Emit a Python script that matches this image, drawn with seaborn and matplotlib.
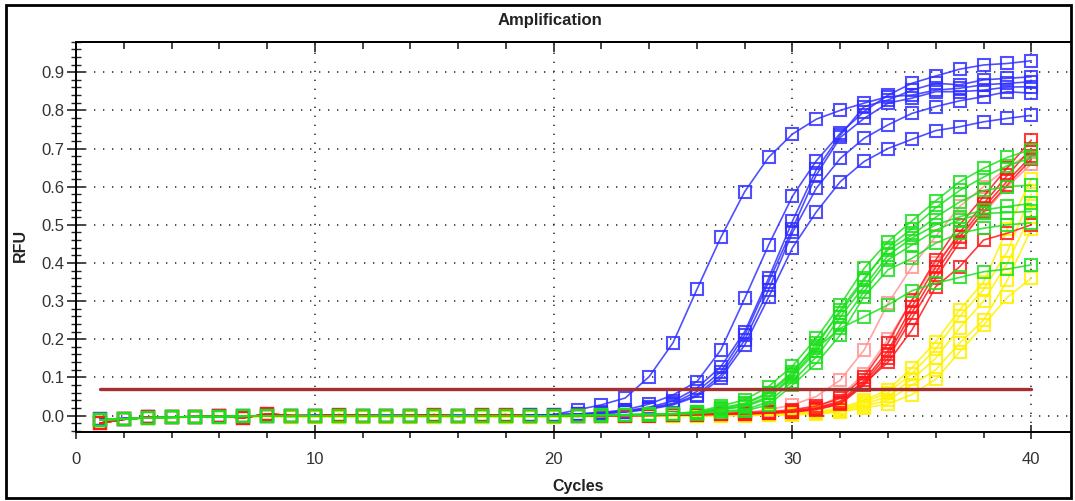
import numpy as np
import pandas as pd
import matplotlib
matplotlib.use("Agg")
import matplotlib.pyplot as plt
import seaborn as sns
from matplotlib.ticker import MultipleLocator
from matplotlib.patches import Rectangle

sns.set_style("white")
plt.rcParams['font.family'] = ['Liberation Sans', 'DejaVu Sans']

cycles = list(range(1, 41))

# early (cycles 1-20) baselines per colour group
blue_early = [-0.010, -0.008, -0.005, -0.004, -0.003, -0.002, -0.002, -0.001, -0.001, 0.000,
              0.000, 0.000, 0.000, 0.000, 0.000, 0.000, 0.000, 0.000, 0.001, 0.002]
green_early = [-0.012, -0.009, -0.006, -0.005, -0.003, -0.003, -0.002, -0.001, -0.002, -0.001,
               -0.001, -0.001, -0.001, -0.001, -0.001, -0.001, -0.001, -0.001, -0.001, -0.001]
red_early = [-0.020, -0.010, -0.005, -0.004, -0.003, -0.002, -0.006, 0.004, 0.000, -0.001,
             0.002, 0.000, -0.001, 0.000, 0.002, -0.002, 0.001, 0.002, -0.001, -0.001]
yellow_early = [-0.012, -0.009, -0.006, -0.005, -0.004, -0.004, -0.003, -0.002, -0.003, -0.003,
                -0.003, -0.003, -0.003, -0.003, -0.003, -0.003, -0.003, -0.003, -0.003, -0.003]

# cycles 21-40 per well
blue_late = [
    [0.015, 0.028, 0.046, 0.102, 0.191, 0.331, 0.467, 0.587, 0.677, 0.738, 0.777, 0.800, 0.819, 0.836, 0.840, 0.853, 0.858, 0.867, 0.871, 0.875],
    [0.004, 0.008, 0.015, 0.030, 0.054, 0.089, 0.172, 0.307, 0.447, 0.575, 0.668, 0.740, 0.797, 0.840, 0.871, 0.890, 0.908, 0.919, 0.923, 0.930],
    [0.004, 0.007, 0.012, 0.022, 0.038, 0.072, 0.128, 0.220, 0.360, 0.510, 0.645, 0.735, 0.810, 0.827, 0.853, 0.871, 0.867, 0.880, 0.884, 0.888],
    [0.003, 0.006, 0.010, 0.020, 0.032, 0.063, 0.115, 0.211, 0.350, 0.490, 0.631, 0.729, 0.779, 0.819, 0.832, 0.849, 0.849, 0.853, 0.861, 0.862],
    [0.003, 0.006, 0.010, 0.018, 0.030, 0.054, 0.106, 0.198, 0.330, 0.480, 0.596, 0.674, 0.727, 0.762, 0.792, 0.810, 0.825, 0.836, 0.849, 0.845],
    [0.003, 0.005, 0.009, 0.016, 0.028, 0.050, 0.098, 0.185, 0.310, 0.440, 0.534, 0.613, 0.666, 0.700, 0.724, 0.747, 0.757, 0.770, 0.779, 0.787],
]
green_late = [
    [0.000, 0.001, 0.002, 0.003, 0.005, 0.010, 0.025, 0.041, 0.076, 0.130, 0.203, 0.290, 0.386, 0.456, 0.510, 0.563, 0.613, 0.648, 0.677, 0.697],
    [0.000, 0.001, 0.002, 0.003, 0.005, 0.009, 0.020, 0.032, 0.060, 0.115, 0.181, 0.277, 0.360, 0.434, 0.473, 0.520, 0.560, 0.590, 0.600, 0.604],
    [0.000, 0.001, 0.002, 0.003, 0.004, 0.008, 0.016, 0.023, 0.045, 0.102, 0.168, 0.259, 0.338, 0.420, 0.465, 0.500, 0.521, 0.539, 0.548, 0.556],
    [0.000, 0.000, 0.001, 0.002, 0.003, 0.006, 0.012, 0.015, 0.036, 0.089, 0.154, 0.237, 0.325, 0.408, 0.447, 0.486, 0.513, 0.530, 0.532, 0.535],
    [0.000, 0.000, 0.001, 0.002, 0.003, 0.005, 0.010, 0.012, 0.028, 0.080, 0.137, 0.211, 0.312, 0.382, 0.412, 0.452, 0.478, 0.491, 0.500, 0.505],
    [0.000, 0.001, 0.002, 0.003, 0.004, 0.008, 0.016, 0.025, 0.050, 0.105, 0.176, 0.229, 0.259, 0.290, 0.327, 0.347, 0.362, 0.377, 0.384, 0.395],
    [0.000, 0.001, 0.002, 0.003, 0.004, 0.008, 0.018, 0.030, 0.058, 0.110, 0.190, 0.270, 0.355, 0.440, 0.490, 0.545, 0.590, 0.625, 0.655, 0.675],
]
red_late = [
    [0.000, 0.000, 0.001, 0.001, 0.002, 0.003, 0.005, 0.008, 0.010, 0.015, 0.025, 0.045, 0.102, 0.190, 0.303, 0.408, 0.500, 0.574, 0.650, 0.722],
    [0.000, 0.000, 0.000, 0.001, 0.002, 0.003, 0.004, 0.006, 0.008, 0.012, 0.020, 0.038, 0.092, 0.170, 0.285, 0.390, 0.480, 0.555, 0.630, 0.700],
    [-0.002, -0.001, 0.000, 0.000, 0.001, 0.002, 0.003, 0.005, 0.007, 0.010, 0.018, 0.034, 0.086, 0.160, 0.270, 0.375, 0.468, 0.545, 0.615, 0.680],
    [-0.002, -0.001, 0.000, 0.000, 0.001, 0.002, 0.003, 0.004, 0.006, 0.009, 0.015, 0.030, 0.080, 0.150, 0.255, 0.360, 0.455, 0.535, 0.605, 0.672],
    [0.000, 0.000, 0.000, 0.001, 0.002, 0.003, 0.004, 0.005, 0.007, 0.010, 0.017, 0.032, 0.084, 0.140, 0.224, 0.338, 0.390, 0.460, 0.478, 0.500],
]
pink_late = [
    [0.000, 0.000, 0.001, 0.001, 0.002, 0.003, 0.005, 0.008, 0.015, 0.028, 0.050, 0.093, 0.172, 0.294, 0.390, 0.470, 0.548, 0.600, 0.650, 0.690],
    [0.000, 0.000, 0.000, 0.001, 0.001, 0.002, 0.003, 0.005, 0.007, 0.012, 0.022, 0.050, 0.110, 0.200, 0.300, 0.400, 0.470, 0.530, 0.600, 0.660],
]
yellow_late = [
    [-0.002, -0.002, -0.001, -0.001, 0.000, 0.000, 0.001, 0.002, 0.003, 0.005, 0.010, 0.020, 0.040, 0.067, 0.125, 0.194, 0.277, 0.350, 0.490, 0.620],
    [-0.002, -0.002, -0.001, -0.001, 0.000, 0.000, 0.001, 0.001, 0.002, 0.005, 0.008, 0.016, 0.035, 0.060, 0.110, 0.175, 0.260, 0.330, 0.430, 0.580],
    [-0.002, -0.002, -0.001, -0.001, -0.001, 0.000, 0.000, 0.001, 0.002, 0.004, 0.007, 0.013, 0.030, 0.050, 0.095, 0.150, 0.230, 0.300, 0.400, 0.530],
    [-0.002, -0.002, -0.001, -0.001, -0.001, 0.000, 0.000, 0.001, 0.001, 0.003, 0.006, 0.011, 0.025, 0.040, 0.080, 0.120, 0.190, 0.250, 0.355, 0.490],
    [-0.002, -0.002, -0.002, -0.001, -0.001, 0.000, 0.000, 0.000, 0.001, 0.002, 0.004, 0.009, 0.020, 0.030, 0.055, 0.095, 0.167, 0.237, 0.310, 0.360],
]

threshold = 0.07

groups = [
    ("blue", blue_early, blue_late, "#3030ff"),
    ("pink", red_early, pink_late, "#ff9595"),
    ("yellow", yellow_early, yellow_late, "#fff200"),
    ("red", red_early, red_late, "#ff1a1a"),
    ("green", green_early, green_late, "#1ee01e"),
]

fig = plt.figure(figsize=(10.75, 5.01), dpi=100)
ax = fig.add_axes([76 / 1075, 1 - 432.3 / 501, (1070 - 76) / 1075, (432.3 - 41.7) / 501])

for name, early, lates, col in groups:
    for i, late in enumerate(lates):
        df = pd.DataFrame({"Cycles": cycles, "RFU": early + late})
        sns.lineplot(data=df, x="Cycles", y="RFU", ax=ax, color=col, linewidth=1.2,
                     marker="s", markersize=8.5, markerfacecolor="none",
                     markeredgecolor=col, markeredgewidth=1.5, alpha=0.85,
                     errorbar=None, sort=False, legend=False)

ax.plot([1, 40], [threshold, threshold], color="#a53030", linewidth=2.4, zorder=10)

ax.set_xlim(0, (1070 - 75.3) / 23.9)
ax.set_ylim(-0.044, 0.98)
ax.xaxis.set_major_locator(MultipleLocator(10))
ax.xaxis.set_minor_locator(MultipleLocator(2))
ax.yaxis.set_major_locator(MultipleLocator(0.1))
ax.yaxis.set_minor_locator(MultipleLocator(0.02))
ax.yaxis.set_major_formatter(matplotlib.ticker.FormatStrFormatter("%.1f"))

ax.grid(True, which="major", color="#333333", linestyle=(0, (0.8, 4.6)), linewidth=1.2)
for s in ["left", "bottom", "top"]:
    ax.spines[s].set_color("black")
    ax.spines[s].set_linewidth(1.4)
ax.spines["right"].set_visible(False)

ax.tick_params(axis="x", which="major", direction="inout", length=10, width=1.2,
               labelsize=12, labelcolor="#333333", pad=9, bottom=True, top=False)
ax.tick_params(axis="x", which="minor", direction="out", length=4, width=1.2, bottom=True, top=False)
ax.tick_params(axis="y", which="major", direction="inout", length=13, width=1.2,
               labelsize=12, labelcolor="#333333", pad=2, left=True)
ax.tick_params(axis="y", which="minor", direction="inout", length=7, width=1.0, left=True)

sec = ax.secondary_xaxis("top")
sec.xaxis.set_major_locator(MultipleLocator(10))
sec.xaxis.set_minor_locator(MultipleLocator(2))
sec.tick_params(which="major", direction="in", length=7, width=1.2, labeltop=False)
sec.tick_params(which="minor", direction="in", length=5, width=1.2)
sec.spines["top"].set_linewidth(1.4)

ax.set_xlabel("")
ax.set_ylabel("")
fig.text(549.5 / 1075, 1 - 20 / 501, "Amplification", ha="center", va="center",
         fontsize=12, fontweight="bold", color="#222222")
fig.text(578.5 / 1075, 1 - 487 / 501, "Cycles", ha="center", va="center",
         fontsize=11.5, fontweight="bold", color="#222222")
fig.text(20 / 1075, 1 - 245 / 501, "RFU", ha="center", va="center", rotation=90,
         fontsize=11.5, fontweight="bold", color="#222222")

fig.patches.append(Rectangle((6 / 1075, 1 - 498 / 501), (1071 - 6) / 1075, (498 - 5) / 501,
                             transform=fig.transFigure, fill=False, edgecolor="black",
                             linewidth=2, zorder=0))

fig.savefig("out.png", dpi=100)
